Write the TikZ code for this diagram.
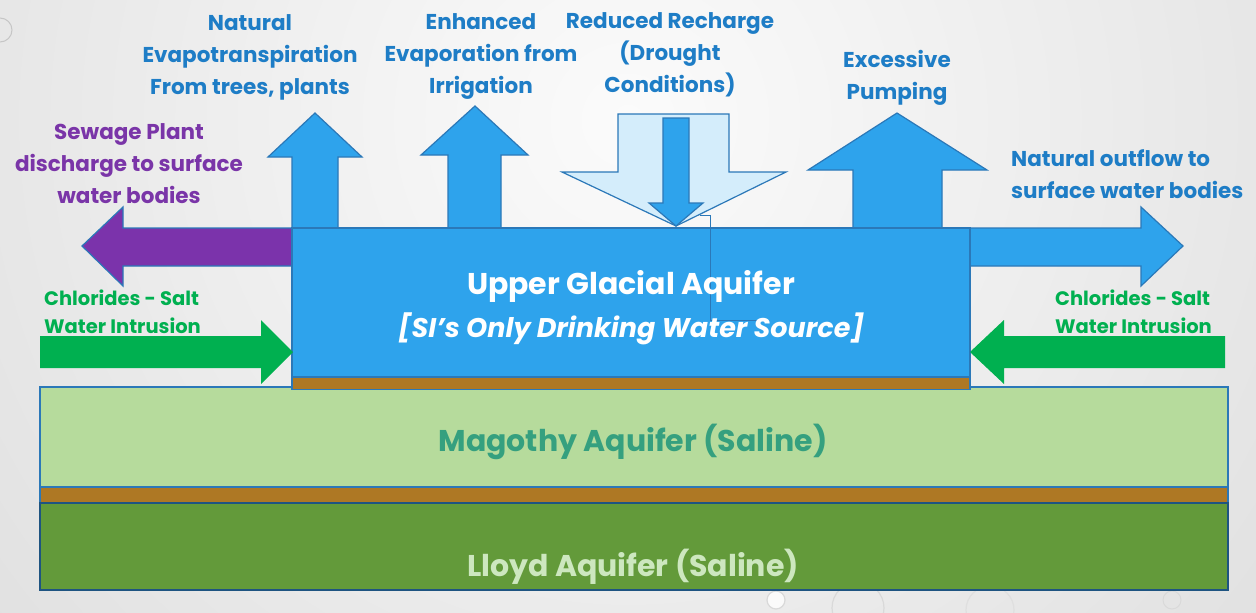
\documentclass[tikz,border=0pt]{standalone}
\usepackage{fontspec}
\setmainfont{Poppins}
\definecolor{aqblue}{HTML}{2EA3EC}
\definecolor{aqedge}{HTML}{2B78B8}
\definecolor{lightfill}{HTML}{D4EDFB}
\definecolor{lblblue}{HTML}{1E7DC6}
\definecolor{sewage}{HTML}{7B33AB}
\definecolor{sewtext}{HTML}{7A35A8}
\definecolor{salt}{HTML}{00B050}
\definecolor{clay}{HTML}{AE7824}
\definecolor{mago}{HTML}{B6DB9C}
\definecolor{magotext}{HTML}{35A07F}
\definecolor{lloyd}{HTML}{639A3A}
\definecolor{lloydtext}{HTML}{CDE7BF}
\definecolor{bgout}{HTML}{CBCBCB}
\definecolor{bgin}{HTML}{FBFBFB}
\tikzset{
  lbl/.style={align=center, text=lblblue, font=\fontsize{21.5}{32}\selectfont\bfseries, inner sep=0pt},
  bluearrow/.style={fill=aqblue, draw=aqedge, line width=1.2pt, line join=miter},
  saltlbl/.style={align=left, text=salt, font=\fontsize{19.5}{28.5}\selectfont\bfseries, inner sep=0pt, anchor=west},
  layer/.style={draw=aqedge, line width=1.5pt, inner sep=0pt, outer sep=0pt}
}
\begin{document}
\begin{tikzpicture}[x=1pt,y=-1pt]
\useasboundingbox (0,0) rectangle (1256,613);
\begin{scope}
\clip (0,0) rectangle (1256,613);
\shade[inner color=bgin, outer color=bgout] (628,120) circle (1500pt);
% faint water drops
\draw[gray!45, line width=1pt] (0,30) circle (12pt);
\draw[gray!30, line width=1.2pt, fill=white!60!gray!10] (776,600) circle (9pt);
\draw[gray!30, line width=1.2pt] (858,608) circle (26pt);
\draw[gray!25, line width=1.2pt] (990,610) circle (24pt);
\draw[gray!30, line width=1pt] (1172,600) circle (9pt);
\end{scope}

% up arrows
\draw[bluearrow] (292,229) -- (292,157) -- (268,157) -- (315,113) -- (362,157) -- (338,157) -- (338,229) -- cycle;
\draw[bluearrow] (448,229) -- (448,155) -- (421,155) -- (475,106) -- (528,155) -- (501,155) -- (501,229) -- cycle;
\draw[bluearrow] (853,229) -- (853,170) -- (808,170) -- (897,113) -- (987,170) -- (942,170) -- (942,229) -- cycle;
% reduced recharge
\draw[fill=lightfill, draw=aqedge, line width=1.2pt] (618,114) -- (729,114) -- (729,172) -- (786,172) -- (676,226) -- (562,172) -- (618,172) -- cycle;
\draw[bluearrow] (663,118) -- (689,118) -- (689,203) -- (703,203) -- (676,226) -- (649,203) -- (663,203) -- cycle;
% side arrows
\draw[bluearrow] (969,228) -- (1141,228) -- (1141,207) -- (1183,246) -- (1141,286) -- (1141,266) -- (969,266) -- cycle;
\draw[fill=sewage, draw=aqedge, line width=1.2pt] (293,228) -- (123,228) -- (123,207) -- (82,246) -- (123,286) -- (123,266) -- (293,266) -- cycle;

% layers
\node[layer, fill=mago, minimum width=1188pt, minimum height=100pt] (mag) at (634,437) {};
\node[layer, fill=clay, minimum width=1188pt, minimum height=16pt] (clay2) at (634,495) {};
\node[layer, fill=lloyd, draw=aqedge!70!black, minimum width=1188pt, minimum height=87pt] (lly) at (634,546.5) {};
\node[layer, fill=clay, minimum width=678pt, minimum height=13pt] (clay1) at (631,383) {};
\node[layer, fill=aqblue, minimum width=678pt, minimum height=149pt, text=white, align=center] (uga) at (631,302.5) {};

% thin callout line
\coordinate (c1) at (700,215);
\coordinate (c2) at (763,320);
\draw[aqedge, line width=0.7pt] (c1) -- (710,215) -- (710,320) -- (c2);

\node[text=white, font=\fontsize{30}{43}\selectfont\bfseries, align=center] (ugat) at ([yshift=-5pt]uga.center) {Upper Glacial Aquifer\\\fontsize{27}{43}\selectfont\itshape [SI’s Only Drinking Water Source]};
\node[text=magotext, font=\fontsize{30}{34}\selectfont\bfseries] (magt) at (633,442) {Magothy Aquifer (Saline)};
\node[text=lloydtext, font=\fontsize{30}{34}\selectfont\bfseries] (llyt) at (633,567) {Lloyd Aquifer (Saline)};

% green intrusion arrows
\draw[fill=salt, draw=none] (40,336) -- (261,336) -- (261,320) -- (293,352) -- (261,384) -- (261,368) -- (40,368) -- cycle;
\draw[fill=salt, draw=none] (1225,336) -- (1004,336) -- (1004,320) -- (970,352) -- (1004,384) -- (1004,368) -- (1225,368) -- cycle;

% labels
\node[lbl] (evap) at (250,57) {Natural\\Evapotranspiration\\From trees, plants};
\node[lbl] (irr) at (481,56) {Enhanced\\Evaporation from\\Irrigation};
\node[lbl] (rech) at (670,55) {Reduced Recharge\\(Drought\\Conditions)};
\node[lbl] (pump) at (897,77.5) {Excessive\\Pumping};
\node[lbl, align=left, anchor=west] (outf) at (1011,174.5) {Natural outflow to\\surface water bodies};
\node[lbl, text=sewtext] (sew) at (129,163.5) {Sewage Plant\\discharge to surface\\water bodies};
\node[saltlbl] (cl) at (44,312) {Chlorides - Salt\\Water Intrusion};
\node[saltlbl] (cr) at (1055,312) {Chlorides - Salt\\Water Intrusion};
\end{tikzpicture}
\end{document}
